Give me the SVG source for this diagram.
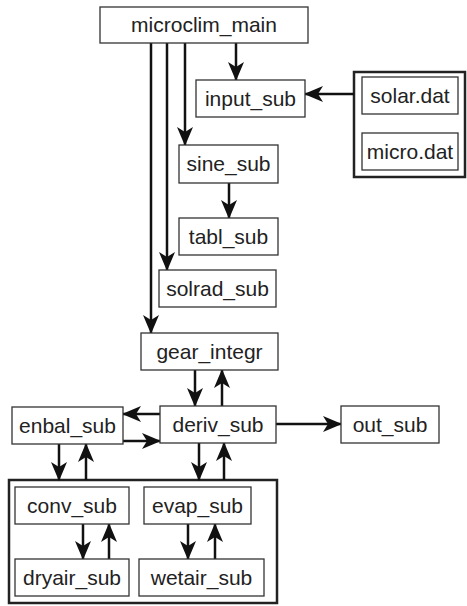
<svg xmlns="http://www.w3.org/2000/svg" width="467" height="606" viewBox="0 0 467 606">
  <style>
    .box { fill: #fff; stroke: #333; stroke-width: 1.3; }
    .frame { fill: none; stroke: #222; stroke-width: 2.5; }
    .lbl { font-family: "Liberation Sans", Arial, sans-serif; font-size: 21px; fill: #222; text-anchor: middle; }
    .wire { fill: none; stroke: #111; stroke-width: 2.5; marker-end: url(#head); }
  </style>
  <defs>
    <!-- barbed arrowhead, tip at the end of each wire -->
    <marker id="head" markerUnits="userSpaceOnUse" markerWidth="19" markerHeight="16" refX="18" refY="8" orient="auto">
      <path d="M0,0 L19,8 L0,16 L5,8 z" fill="#111"/>
    </marker>
  </defs>

  <rect width="467" height="606" fill="#fff"/>

  <!-- frames grouping the data files and the air subroutines -->
  <rect class="frame" x="354" y="72" width="111" height="105"/>
  <rect class="frame" x="9" y="480" width="268" height="123"/>

  <g id="connectors">
    <path class="wire" d="M236,43 V80"/>
    <path class="wire" d="M185,43 V145"/>
    <path class="wire" d="M167,43 V270"/>
    <path class="wire" d="M151,43 V333"/>
    <path class="wire" d="M354,94 H305"/>
    <path class="wire" d="M229,183 V218"/>
    <path class="wire" d="M195,370 V406"/>
    <path class="wire" d="M222,406 V370"/>
    <path class="wire" d="M160,414 H123"/>
    <path class="wire" d="M123,441 H160"/>
    <path class="wire" d="M276,424 H341"/>
    <path class="wire" d="M59,444 V480"/>
    <path class="wire" d="M86,480 V444"/>
    <path class="wire" d="M199,443 V480"/>
    <path class="wire" d="M224,480 V443"/>
    <path class="wire" d="M83,524 V559"/>
    <path class="wire" d="M109,559 V524"/>
    <path class="wire" d="M188,524 V559"/>
    <path class="wire" d="M215,559 V524"/>
  </g>

  <g id="microclim_main">
    <rect class="box" x="100" y="7" width="208" height="36"/>
    <text class="lbl" x="204" y="32">microclim_main</text>
  </g>
  <g id="input_sub">
    <rect class="box" x="196" y="80" width="109" height="37"/>
    <text class="lbl" x="250.5" y="106">input_sub</text>
  </g>
  <g id="solar_dat">
    <rect class="box" x="362" y="77" width="96" height="37"/>
    <text class="lbl" x="410" y="103">solar.dat</text>
  </g>
  <g id="micro_dat">
    <rect class="box" x="362" y="133" width="96" height="37"/>
    <text class="lbl" x="410" y="159">micro.dat</text>
  </g>
  <g id="sine_sub">
    <rect class="box" x="179" y="145" width="99" height="38"/>
    <text class="lbl" x="228.5" y="171">sine_sub</text>
  </g>
  <g id="tabl_sub">
    <rect class="box" x="179" y="218" width="99" height="37"/>
    <text class="lbl" x="228.5" y="244">tabl_sub</text>
  </g>
  <g id="solrad_sub">
    <rect class="box" x="159" y="270" width="117" height="37"/>
    <text class="lbl" x="217.5" y="296">solrad_sub</text>
  </g>
  <g id="gear_integr">
    <rect class="box" x="141" y="333" width="137" height="37"/>
    <text class="lbl" x="209.5" y="359">gear_integr</text>
  </g>
  <g id="deriv_sub">
    <rect class="box" x="160" y="406" width="116" height="37"/>
    <text class="lbl" x="218" y="432">deriv_sub</text>
  </g>
  <g id="enbal_sub">
    <rect class="box" x="12" y="407" width="111" height="37"/>
    <text class="lbl" x="67.5" y="433">enbal_sub</text>
  </g>
  <g id="out_sub">
    <rect class="box" x="341" y="406" width="98" height="37"/>
    <text class="lbl" x="390" y="432">out_sub</text>
  </g>
  <g id="conv_sub">
    <rect class="box" x="15" y="487" width="114" height="37"/>
    <text class="lbl" x="72" y="513">conv_sub</text>
  </g>
  <g id="evap_sub">
    <rect class="box" x="144" y="487" width="107" height="37"/>
    <text class="lbl" x="197.5" y="513">evap_sub</text>
  </g>
  <g id="dryair_sub">
    <rect class="box" x="15" y="559" width="114" height="37"/>
    <text class="lbl" x="72" y="585">dryair_sub</text>
  </g>
  <g id="wetair_sub">
    <rect class="box" x="139" y="559" width="125" height="37"/>
    <text class="lbl" x="201.5" y="585">wetair_sub</text>
  </g>
</svg>
